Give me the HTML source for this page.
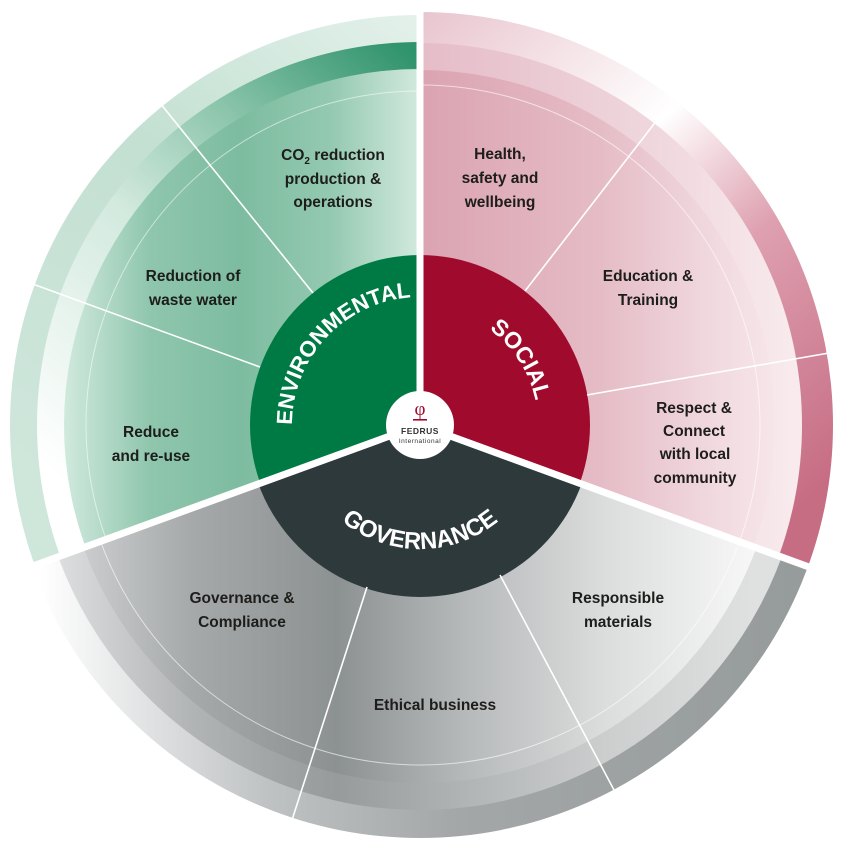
<!DOCTYPE html>
<html><head><meta charset="utf-8"><style>
html,body{margin:0;padding:0;background:#fff;}
svg{display:block;}
.lb{font-family:"Liberation Sans",sans-serif;font-weight:bold;font-size:15.5px;fill:#1d1d1b;text-anchor:middle;}
.cl{font-family:"Liberation Sans",sans-serif;font-weight:bold;fill:#fff;}
</style></head><body>
<svg width="850" height="850" viewBox="0 0 850 850" xmlns="http://www.w3.org/2000/svg">
<defs>
<clipPath id="cE"><polygon points="420,425 -238,664 -238,186 -20,-119 420,-275"/></clipPath>
<clipPath id="cS"><polygon points="420,425 420,-275 851,-127 1109,303 1078,664"/></clipPath>
<clipPath id="cG"><polygon points="420,425 1078,664 749,1043 204,1091 -238,664"/></clipPath>

<linearGradient id="eO" gradientUnits="userSpaceOnUse" x1="40" y1="480" x2="420" y2="20">
<stop offset="0" stop-color="#cfe6db"/><stop offset="0.55" stop-color="#c3e0d2"/><stop offset="1" stop-color="#e3f1ea"/></linearGradient>
<linearGradient id="eB" gradientUnits="userSpaceOnUse" x1="60" y1="480" x2="420" y2="60">
<stop offset="0" stop-color="#ffffff"/><stop offset="0.45" stop-color="#d2e9de"/><stop offset="0.7" stop-color="#8cc5ab"/><stop offset="1" stop-color="#2f936b"/></linearGradient>
<linearGradient id="eM" gradientUnits="userSpaceOnUse" x1="60" y1="0" x2="420" y2="0">
<stop offset="0" stop-color="#d4ebe0"/><stop offset="0.25" stop-color="#8fc6ad"/><stop offset="0.5" stop-color="#7dbca0"/><stop offset="0.75" stop-color="#93c9b0"/><stop offset="1" stop-color="#d3e9de"/></linearGradient>

<linearGradient id="sO" gradientUnits="userSpaceOnUse" x1="420" y1="20" x2="835" y2="480">
<stop offset="0" stop-color="#e9c6cf"/><stop offset="0.38" stop-color="#ffffff"/><stop offset="0.62" stop-color="#dea0b0"/><stop offset="1" stop-color="#c66c83"/></linearGradient>
<linearGradient id="sB" gradientUnits="userSpaceOnUse" x1="420" y1="0" x2="800" y2="0">
<stop offset="0" stop-color="#e5bcc7"/><stop offset="0.6" stop-color="#efd6dd"/><stop offset="1" stop-color="#f8ebee"/></linearGradient>
<linearGradient id="sM" gradientUnits="userSpaceOnUse" x1="420" y1="0" x2="780" y2="0">
<stop offset="0" stop-color="#dba3b1"/><stop offset="0.5" stop-color="#e5bcc6"/><stop offset="0.85" stop-color="#f2dce2"/><stop offset="1" stop-color="#f6e6ea"/></linearGradient>

<linearGradient id="gO" gradientUnits="userSpaceOnUse" x1="40" y1="0" x2="800" y2="0">
<stop offset="0" stop-color="#ffffff"/><stop offset="0.3" stop-color="#bfc2c3"/><stop offset="0.55" stop-color="#a3a7a8"/><stop offset="1" stop-color="#969b9b"/></linearGradient>
<linearGradient id="gM" gradientUnits="userSpaceOnUse" x1="60" y1="0" x2="790" y2="0">
<stop offset="0" stop-color="#d2d4d5"/><stop offset="0.18" stop-color="#a6a9aa"/><stop offset="0.38" stop-color="#8c9192"/><stop offset="0.55" stop-color="#b5b8b9"/><stop offset="0.75" stop-color="#dcdddd"/><stop offset="0.95" stop-color="#f7f7f7"/></linearGradient>
</defs>

<g clip-path="url(#cE)">
<circle cx="420" cy="425" r="410" fill="url(#eO)"/>
<circle cx="420" cy="425" r="383" fill="url(#eB)"/>
<circle cx="420" cy="425" r="356" fill="url(#eM)"/>
<circle cx="420" cy="425" r="334" fill="none" stroke="#ffffff" stroke-opacity="0.55" stroke-width="1"/>
<circle cx="420" cy="425" r="170" fill="#007a45"/>
</g>
<g clip-path="url(#cS)">
<circle cx="420" cy="425" r="413" fill="url(#sO)"/>
<circle cx="420" cy="425" r="382" fill="url(#sB)"/>
<circle cx="420" cy="425" r="355" fill="url(#sM)"/>
<circle cx="420" cy="425" r="340" fill="none" stroke="#ffffff" stroke-opacity="0.6" stroke-width="1"/>
<circle cx="420" cy="425" r="170" fill="#a00b2d"/>
</g>
<g clip-path="url(#cG)">
<circle cx="420" cy="425" r="413" fill="url(#gO)"/>
<circle cx="420" cy="425" r="385" fill="url(#gM)" opacity="0.75"/>
<circle cx="420" cy="425" r="358" fill="url(#gM)"/>
<circle cx="420" cy="425" r="340" fill="none" stroke="#ffffff" stroke-opacity="0.6" stroke-width="1"/>
<circle cx="420" cy="425" r="172" fill="#2d393b"/>
</g>

<g stroke="#ffffff" stroke-width="1.6">
<line x1="260" y1="367" x2="30" y2="283"/>
<line x1="313" y1="293" x2="160" y2="103"/>
<line x1="525" y1="291" x2="674" y2="98"/>
<line x1="587" y1="395" x2="829" y2="353"/>
<line x1="500" y1="575" x2="614" y2="790"/>
<line x1="367" y1="587" x2="292" y2="820"/>
</g>
<g stroke="#ffffff" stroke-width="7">
<line x1="420" y1="425" x2="420" y2="0"/>
<line x1="420" y1="425" x2="0" y2="578"/>
<line x1="420" y1="425" x2="850" y2="582"/>
</g>

<path id="pE" d="M292.1,429.5 A128,128 0 0 1 415.5,297.1" fill="none"/>
<text class="cl" font-size="22"><textPath href="#pE" startOffset="50%" text-anchor="middle" textLength="192" lengthAdjust="spacingAndGlyphs">ENVIRONMENTAL</textPath></text>
<path id="pS" d="M479,322.8 A118,118 0 0 1 538,425" fill="none"/>
<text class="cl" font-size="23"><textPath href="#pS" startOffset="45%" text-anchor="middle">SOCIAL</textPath></text>
<path id="pG" d="M325,504.7 A124,124 0 0 0 515,504.7" fill="none"/>
<text class="cl" font-size="24"><textPath href="#pG" startOffset="50%" text-anchor="middle" textLength="170" lengthAdjust="spacingAndGlyphs">GOVERNANCE</textPath></text>

<circle cx="420" cy="425" r="34" fill="#ffffff"/>
<text x="420" y="415" text-anchor="middle" font-family="Liberation Serif,serif" font-size="19" fill="#a00b2d">φ</text>
<rect x="413" y="419" width="14" height="1.6" fill="#a00b2d"/>
<text x="420" y="434" text-anchor="middle" font-family="Liberation Sans,sans-serif" font-weight="bold" font-size="8.5" fill="#333" letter-spacing="0.5">FEDRUS</text>
<text x="420" y="443" text-anchor="middle" font-family="Liberation Sans,sans-serif" font-size="6.5" fill="#333" letter-spacing="0.5">International</text>

<text class="lb" x="333" y="160">CO<tspan font-size="10" dy="4">2</tspan><tspan dy="-4"> reduction</tspan></text>
<text class="lb" x="333" y="184">production &amp;</text>
<text class="lb" x="333" y="207">operations</text>
<text class="lb" x="193" y="281">Reduction of</text>
<text class="lb" x="193" y="305">waste water</text>
<text class="lb" x="151" y="437">Reduce</text>
<text class="lb" x="151" y="461">and re-use</text>
<text class="lb" x="500" y="159">Health,</text>
<text class="lb" x="500" y="183">safety and</text>
<text class="lb" x="500" y="207">wellbeing</text>
<text class="lb" x="648" y="281">Education &amp;</text>
<text class="lb" x="648" y="305">Training</text>
<text class="lb" x="694" y="413">Respect &amp;</text>
<text class="lb" x="694" y="436">Connect</text>
<text class="lb" x="695" y="459">with local</text>
<text class="lb" x="695" y="483">community</text>
<text class="lb" x="242" y="603">Governance &amp;</text>
<text class="lb" x="242" y="627">Compliance</text>
<text class="lb" x="618" y="603">Responsible</text>
<text class="lb" x="618" y="627">materials</text>
<text class="lb" x="435" y="710">Ethical business</text>
</svg>
</body></html>
